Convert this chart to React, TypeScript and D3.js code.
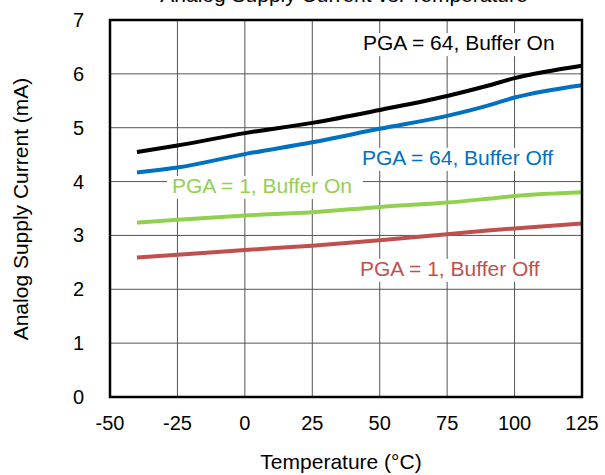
import React from "react";
import * as d3 from "d3";

const temps = [-40, -25, 0, 25, 50, 75, 90, 100, 125];
const pga64BufOn = [4.55, 4.67, 4.9, 5.09, 5.33, 5.59, 5.78, 5.92, 6.15];
const pga64BufOff = [4.17, 4.26, 4.51, 4.73, 4.98, 5.22, 5.41, 5.56, 5.79];
const pga1BufOn = [3.24, 3.29, 3.37, 3.43, 3.53, 3.61, 3.68, 3.73, 3.8];
const pga1BufOff = [2.59, 2.64, 2.73, 2.81, 2.91, 3.02, 3.09, 3.13, 3.22];

const xTicks = [-50, -25, 0, 25, 50, 75, 100, 125];
const yTicks = [0, 1, 2, 3, 4, 5, 6, 7];

const seriesNames = [
  "PGA = 64, Buffer On",
  "PGA = 64, Buffer Off",
  "PGA = 1, Buffer On",
  "PGA = 1, Buffer Off",
];

const width = 605;
const height = 475;
const margin = { top: 20, right: 23, bottom: 78, left: 110 };
const font = "Arial, 'Liberation Sans', sans-serif";

const x = d3.scaleLinear().domain([-50, 125]).range([margin.left, width - margin.right]);
const y = d3.scaleLinear().domain([0, 7]).range([height - margin.bottom, margin.top]);

const line = d3
  .line<number>()
  .x((_, i) => x(temps[i]))
  .y((d) => y(d))
  .curve(d3.curveMonotoneX);

// colour + label anchor in data units (temp, mA), w = label width in px
const series = [
  { values: pga64BufOn, color: "#000000", lx: 43.8, ly: 6.44, w: 193 },
  { values: pga64BufOff, color: "#0070C0", lx: 43.4, ly: 4.31, w: 193 },
  { values: pga1BufOn, color: "#92D050", lx: -27, ly: 3.79, w: 182 },
  { values: pga1BufOff, color: "#C0504D", lx: 42.7, ly: 2.25, w: 182 },
];

export default function App() {
  const x0 = margin.left;
  const x1 = width - margin.right;
  const y0 = height - margin.bottom;
  const y1 = margin.top;

  return (
    <svg
      width={width}
      height={height}
      style={{ position: "absolute", left: 0, top: 0, background: "#fff" }}
      fontFamily={font}
    >
      <text x={344} y={2} fontSize={21} textAnchor="middle" fill="#000">
        Analog Supply Current vs. Temperature
      </text>

      {xTicks.map((t) => (
        <line key={"gx" + t} x1={x(t)} x2={x(t)} y1={y1} y2={y0} stroke="#555" strokeWidth={1} />
      ))}
      {yTicks.map((t) => (
        <line key={"gy" + t} x1={x0} x2={x1} y1={y(t)} y2={y(t)} stroke="#555" strokeWidth={1} />
      ))}

      {series.map((s, i) => (
        <rect
          key={"bg" + i}
          x={x(s.lx) - 5}
          y={y(s.ly) - 17}
          width={s.w + 14}
          height={23}
          fill="#fff"
        />
      ))}

      {series.map((s, i) => (
        <path
          key={"l" + i}
          d={line(s.values) || ""}
          fill="none"
          stroke={s.color}
          strokeWidth={4}
          strokeLinejoin="round"
        />
      ))}

      {series.map((s, i) => (
        <text key={"t" + i} x={x(s.lx)} y={y(s.ly)} fontSize={21} fill={s.color}>
          {seriesNames[i]}
        </text>
      ))}

      <rect x={x0} y={y1} width={x1 - x0} height={y0 - y1} fill="none" stroke="#000" strokeWidth={2.5} />

      {xTicks.map((t) => (
        <text key={"xt" + t} x={x(t)} y={430} fontSize={20} textAnchor="middle" fill="#000">
          {t}
        </text>
      ))}
      {yTicks.map((t) => (
        <text
          key={"yt" + t}
          x={84}
          y={y(t)}
          fontSize={20}
          textAnchor="end"
          dominantBaseline="central"
          fill="#000"
        >
          {t}
        </text>
      ))}

      <text x={341} y={469} fontSize={21} textAnchor="middle" fill="#000">
        Temperature (°C)
      </text>
      <text
        transform={`translate(28,${209}) rotate(-90)`}
        fontSize={21}
        textAnchor="middle"
        fill="#000"
      >
        Analog Supply Current (mA)
      </text>
    </svg>
  );
}
